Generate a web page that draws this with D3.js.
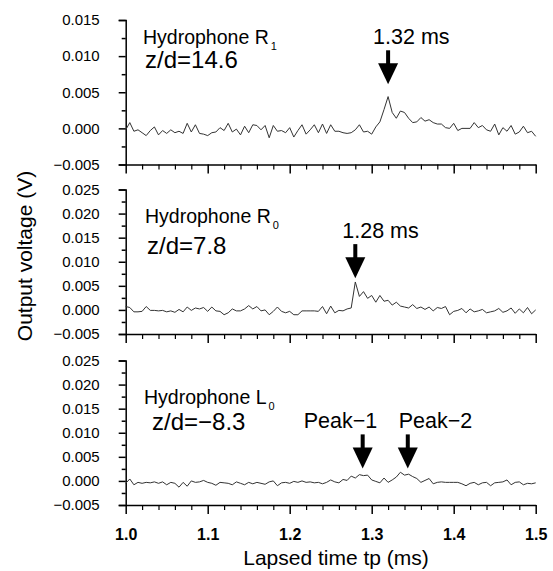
<!DOCTYPE html>
<html>
<head>
<meta charset="utf-8">
<script src="https://cdn.jsdelivr.net/npm/d3@7"></script>
<style>
body { margin: 0; background: #fff; }
text { font-family: "Liberation Sans", Arial, sans-serif; fill: #000; }
</style>
</head>
<body>
<div id="chart"></div>
<script>
// sampling of the records (ms)
var t0 = 1.0, dt = 0.005;

// output voltage, in mV, one value per sample
var r1 = [-0.2, 0.8, -0.4, -0.2, -0.6, -1.0, -0.3, 0.2, -0.9, -0.3,
  -0.7, -0.2, -0.6, -0.4, -0.7, 0.7, -0.5, 0.5, -0.7, -0.8,
  -1.0, -0.6, -0.5, 0.1, -0.3, 0.7, -0.5, -0.1, -0.9, 0.3,
  -0.6, 0.5, 0.4, -0.2, 0.4, -1.3, 0.4, -0.4, -0.3, -0.6,
  0.1, -1.2, -0.3, 0.5, -0.8, -0.2, 0.5, -0.6, 0.6, -0.7,
  0.5, -0.4, -0.4, -0.6, -0.7, -0.6, -0.2, 0.5, -0.5, -0.4,
  -0.8, 0.2, 0.9, 2.6, 4.4, 2.2, 1.4, 2.4, 2.2, 1.4,
  0.8, 0.9, 1.5, 1.0, 1.2, 0.8, 0.6, 0.6, 0.1, 0.0,
  0.7, -0.3, 0.0, 0.0, 0.0, 0.8, 0.1, 0.4, -0.2, -0.4,
  0.6, -0.9, 0.1, -0.4, 0.4, -0.8, -0.5, 0.3, -0.6, -0.4, -1.1];

var r0 = [0.7, 0.5, -0.4, -0.4, -0.3, 0.7, -0.1, -0.1, -0.2, -0.1,
  -0.4, -0.2, -0.5, 0.1, -0.4, 0.6, -0.1, 0.4, 0.2, 0.5,
  -0.3, 0.6, -0.2, -0.3, -1.0, -0.6, 0.2, -0.2, -0.2, 0.2,
  0.9, 0.2, 0.7, -0.2, 0.0, -1.0, -0.3, 0.6, -0.3, -0.6,
  -0.3, -1.0, -1.0, -0.2, -0.2, -0.2, -0.2, -0.3, 0.7, -0.8,
  0.8, -0.6, -0.1, -0.2, 0.2, 0.4, 5.8, 2.8, 3.8, 2.4,
  3.0, 1.6, 3.0, 1.8, 2.0, 1.0, 1.6, 0.8, 0.6, 0.4,
  1.1, 0.3, 0.6, 0.1, 0.6, -0.2, 0.5, 0.3, 0.7, -1.0,
  -0.3, -0.1, 0.3, -0.6, 0.2, -0.4, -0.2, 0.1, -0.6, -0.4,
  -0.2, 0.3, -0.5, -0.2, 0.4, -0.7, 0.2, -0.6, 0.5, -0.8, 0.0];

var l0 = [-0.5, 0.4, -0.8, -0.3, -0.5, -0.3, -0.4, -0.2, -0.5, -0.2,
  -0.8, -0.3, -0.5, -1.3, -0.3, -1.1, 0.0, -0.3, -0.2, 0.1,
  -0.3, -0.5, -0.9, -0.3, -0.4, -0.5, -0.8, -0.2, -0.5, -0.8,
  -0.3, -0.6, -0.3, -0.5, -0.7, -0.2, 0.0, -1.0, -0.4, -0.3,
  -0.5, -0.1, -0.3, 0.0, -0.3, -0.2, -0.4, -0.3, -0.6, -0.3,
  0.2, -0.2, -0.4, 0.3, 0.1, 1.0, 0.6, 1.3, 1.1, 1.2,
  0.2, -0.1, -0.4, 0.6, -0.3, 0.2, 0.8, 1.8, 1.2, 1.4,
  0.9, 0.5, -0.3, 0.1, 0.5, -0.6, -0.3, -0.2, -0.3, -0.3,
  -0.3, -0.3, -0.6, -1.0, -0.5, -0.3, -0.8, -0.4, -0.3, -1.0,
  -0.4, -0.3, -0.2, 0.2, -0.8, -0.3, -0.2, -0.8, -0.5, -0.6, -0.4];

var series = [r1, r0, l0];
var sensors = ["R", "R", "L"];
var sensorSubs = ["1", "0", "0"];
var positions = ["z/d=14.6", "z/d=7.8", "z/d=\u22128.3"];
var yMax = [0.015, 0.025, 0.025];
var yMin = -0.005;
var yStep = 0.005;
var xTicks = [1.0, 1.1, 1.2, 1.3, 1.4, 1.5];
var arrowTimes = [[1.32], [1.28], [1.289, 1.344]];
var arrowTips = [[0.0061], [0.0066], [0.0026, 0.0026]];
var arrowLabels = [["1.32 ms"], ["1.28 ms"], ["Peak\u22121", "Peak\u22122"]];

var W = 553, H = 571;
var left = 125.7, right = 535.7;
var panelTop = [20, 189.5, 360.5], panelH = 144.5;
// text placement per panel
var labelPos = [{hx: 143, hy: 44, zx: 145, zy: 68},
                {hx: 145, hy: 223, zx: 147, zy: 254},
                {hx: 144, hy: 404, zx: 152, zy: 430}];
var arrowLabelDx = [[-15], [-13], [-59, -9]];

var svg = d3.select("#chart").append("svg")
    .attr("width", W)
    .attr("height", H);

var x = d3.scaleLinear().domain([1.0, 1.5]).range([left, right]);

series.forEach(function (vals, p) {
    var top = panelTop[p];
    var y = d3.scaleLinear().domain([yMin, yMax[p]]).range([top + panelH, top]);
    var g = svg.append("g");

    var nMaj = Math.round((yMax[p] - yMin) / yStep);
    var yMajor = d3.range(nMaj + 1).map(function (i) { return yMin + i * yStep; });
    var yMinor = d3.range(nMaj).map(function (i) { return yMin + (i + 0.5) * yStep; });

    // y axis
    var ya = g.append("g").attr("transform", "translate(" + left + ",0)")
        .call(d3.axisLeft(y).tickValues(yMajor).tickSize(7).tickPadding(19)
            .tickFormat(function (d) { return d3.format(".3f")(Math.abs(d) < 1e-9 ? 0 : d).replace("-", "\u2212"); }));
    ya.select(".domain").attr("stroke-width", 1.5);
    ya.selectAll(".tick line").attr("stroke-width", 1.5);
    ya.selectAll("text").style("font-size", "15px").style("font-family", "Liberation Sans, Arial, sans-serif");
    g.append("g").attr("transform", "translate(" + left + ",0)")
        .call(d3.axisLeft(y).tickValues(yMinor).tickSize(4).tickFormat(""))
        .call(function (s) { s.select(".domain").remove(); s.selectAll("line").attr("stroke-width", 1.5); });

    // x axis
    var xa = g.append("g").attr("transform", "translate(0," + (top + panelH) + ")")
        .call(d3.axisBottom(x).tickValues(xTicks).tickSize(9).tickSizeOuter(0).tickPadding(15)
            .tickFormat(p === 2 ? d3.format(".1f") : ""));
    xa.select(".domain").attr("stroke-width", 1.5);
    xa.selectAll(".tick line").attr("stroke-width", 1.5);
    xa.selectAll("text").style("font-size", "16px").style("font-weight", "bold")
        .style("font-family", "Liberation Sans, Arial, sans-serif");
    var xMinor = [];
    xTicks.slice(0, -1).forEach(function (t) { [0.02, 0.04, 0.06, 0.08].forEach(function (o) { xMinor.push(t + o); }); });
    g.append("g").attr("transform", "translate(0," + (top + panelH) + ")")
        .call(d3.axisBottom(x).tickValues(xMinor).tickSize(5).tickFormat(""))
        .call(function (s) { s.select(".domain").remove(); s.selectAll("line").attr("stroke-width", 1.2); });

    // trace
    var line = d3.line()
        .x(function (d, i) { return x(t0 + i * dt); })
        .y(function (d) { return y(d / 1000); });
    g.append("path").datum(vals)
        .attr("fill", "none")
        .attr("stroke", "#333")
        .attr("stroke-width", 1)
        .attr("d", line);

    // sensor labels
    var lp = labelPos[p];
    var ht = g.append("text").attr("x", lp.hx).attr("y", lp.hy).style("font-size", "19.5px");
    ht.append("tspan").text("Hydrophone " + sensors[p]);
    ht.append("tspan").attr("dy", 6).attr("dx", 2).style("font-size", "11px").style("fill", "#000").text(sensorSubs[p]);
    g.append("text").attr("x", lp.zx).attr("y", lp.zy).style("font-size", "24px").text(positions[p]);

    // arrows
    arrowTimes[p].forEach(function (t, k) {
        var ax = x(t), tip = y(arrowTips[p][k]);
        g.append("rect").attr("x", ax - 2).attr("y", tip - 34).attr("width", 4).attr("height", 15).attr("fill", "#000");
        g.append("path")
            .attr("d", "M" + (ax - 10) + "," + (tip - 21) + "L" + (ax + 10) + "," + (tip - 21) + "L" + ax + "," + tip + "Z")
            .attr("fill", "#000");
        g.append("text").attr("x", ax + arrowLabelDx[p][k]).attr("y", tip - 40)
            .style("font-size", "21.5px").text(arrowLabels[p][k]);
    });
});

svg.append("text").attr("x", 336).attr("y", 565).attr("text-anchor", "middle")
    .style("font-size", "21px").text("Lapsed time tp (ms)");
svg.append("text").attr("transform", "translate(32,256) rotate(-90)").attr("text-anchor", "middle")
    .style("font-size", "21px").text("Output voltage (V)");
</script>
</body>
</html>
